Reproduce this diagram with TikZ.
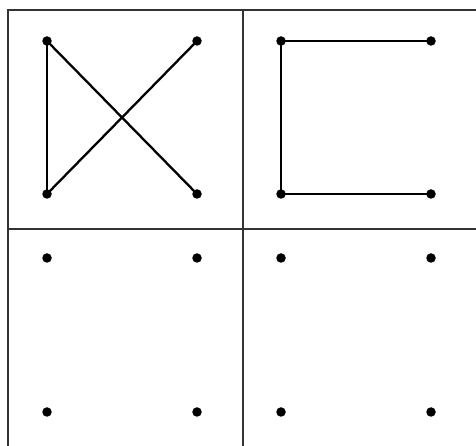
\documentclass[tikz,border=0pt]{standalone}
\usetikzlibrary{calc}
\tikzset{
  every path/.style={
    black,
    line width=2.3pt
  },
  gridline/.style={
    draw=black!80,
    line width=1.5pt
  },
  dot/.style={
    circle,
    fill=black,
    inner sep=0pt,
    minimum size=9.5pt
  }
}

\begin{document}
\begin{tikzpicture}[x=1pt,y=1pt]

    % 枠
    \useasboundingbox (0,0) rectangle (476,446);
    \draw[gridline] (8,-2) rectangle (478,436);
    \draw[gridline] (243,-2) -- (243,436);
    \draw[gridline] (8,217) -- (478,217);

    % 左上の点
    \node[dot] (p11) at (47,405) {};
    \node[dot] (p12) at (197,405) {};
    \node[dot] (p21) at (47,252) {};
    \node[dot] (p22) at (197,252) {};

    % 右上の点
    \node[dot] (q11) at (281,405) {};
    \node[dot] (q12) at (431,405) {};
    \node[dot] (q21) at (281,252) {};
    \node[dot] (q22) at (431,252) {};

    % 左下の点
    \node[dot] (r11) at (47,188) {};
    \node[dot] (r12) at (197,188) {};
    \node[dot] (r21) at (47,34) {};
    \node[dot] (r22) at (197,34) {};

    % 右下の点
    \node[dot] (s11) at (281,188) {};
    \node[dot] (s12) at (431,188) {};
    \node[dot] (s21) at (281,34) {};
    \node[dot] (s22) at (431,34) {};

    % 左上の線
    \draw (p11.center) -- (p21.center);
    \draw (p11.center) -- (p22.center);
    \draw (p21.center) -- (p12.center);

    % 右上の線
    \draw (q12.center) -- (q11.center) -- (q21.center) -- (q22.center);

\end{tikzpicture}
\end{document}
